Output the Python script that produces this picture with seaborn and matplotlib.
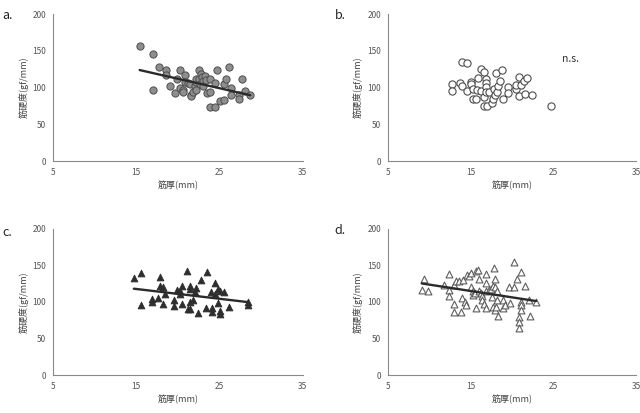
import matplotlib
matplotlib.use("Agg")
import matplotlib.pyplot as plt
import seaborn as sns
import numpy as np

# --- data (muscle thickness mm vs hardness gf/mm) ---
a_x = [15.4, 17.0, 17.0, 17.7, 18.6, 18.6, 19.0, 19.6, 19.9, 20.3, 20.3, 20.6, 20.6, 20.8,
       20.8, 21.2, 21.5, 21.6, 21.6, 21.8, 22.0, 22.2, 22.2, 22.2, 22.5, 22.5, 22.6, 22.8,
       22.9, 23.0, 23.0, 23.3, 23.4, 23.5, 23.8, 23.8, 23.8, 24.5, 24.5, 24.7, 25.1, 25.5,
       25.5, 25.8, 26.1, 26.4, 26.4, 27.3, 27.3, 27.7, 28.1, 28.7]
a_y = [157, 145, 96.6, 128, 124, 117.5, 102.5, 93, 112, 124, 100, 96.6, 93.4, 117,
       108, 106.6, 104.8, 90, 88, 94, 102.5, 108, 96.6, 112, 124, 112, 104.8, 118.5,
       114, 108.4, 102.5, 115.7, 110, 93, 112, 93.4, 73, 74, 105.7, 124, 82, 83.4,
       104.3, 111.6, 128.5, 99.3, 90.2, 89.7, 84.3, 111, 94.8, 89.3]

b_x = [12.7, 12.7, 13.7, 14.0, 14.0, 14.6, 14.6, 15.0, 15.0, 15.3, 15.3, 15.6, 15.8, 15.9,
       16.2, 16.3, 16.6, 16.6, 16.6, 16.9, 16.9, 16.9, 16.9, 17.0, 17.2, 17.6, 17.7, 17.8,
       18.0, 18.1, 18.2, 18.3, 18.5, 18.8, 18.9, 19.5, 19.5, 20.5, 20.5, 20.8, 20.9, 21.1,
       21.5, 21.6, 21.8, 22.4, 24.7]
b_y = [104.6, 95.2, 105.7, 102.5, 134.4, 133.5, 95.7, 108, 104.8, 97.5, 84.3, 84.3, 96.6, 112.5,
       95.7, 124.8, 121.6, 86.6, 75.2, 111.6, 105.7, 100.2, 93.4, 74.7, 94.3, 78.4, 84.3, 97.9,
       89.7, 120.3, 94.3, 102.5, 108.9, 123.9, 83.8, 101, 92, 97.9, 103.9, 114.8, 88.4, 103.9,
       108.9, 91.1, 113, 89.3, 74.7]

c_x = [14.7, 15.6, 15.6, 16.9, 16.9, 17.6, 17.9, 17.9, 18.2, 18.2, 18.5, 19.5, 19.5, 19.9,
       20.3, 20.3, 20.5, 20.5, 21.1, 21.2, 21.5, 21.5, 21.5, 21.5, 21.8, 22.0, 22.2, 22.4,
       22.8, 23.4, 23.5, 24.0, 24.1, 24.1, 24.4, 24.4, 24.8, 24.8, 25.0, 25.0, 25.1, 25.5,
       26.1, 28.4, 28.4]
c_y = [133.3, 139.3, 95.4, 103.7, 100, 105, 134.7, 121.9, 120.5, 96.8, 110.5, 102.7, 94.5, 116.4,
       115, 110.5, 122.4, 96.8, 141.6, 90.4, 121.9, 118.3, 100.5, 90.4, 102.7, 113.7, 118.7, 84.5,
       130.1, 92.2, 141.1, 113.7, 92.2, 86.8, 125.6, 111, 117.4, 98.6, 88.1, 84, 115, 113.7,
       93.6, 100.5, 95.9]

d_x = [9.1, 9.4, 9.8, 11.8, 12.4, 12.4, 12.4, 13.0, 13.0, 13.0, 13.2, 13.6, 13.8, 14.0,
       14.1, 14.3, 14.4, 14.6, 14.8, 15.0, 15.1, 15.3, 15.3, 15.5, 15.6, 15.7, 15.9, 16.0,
       16.0, 16.2, 16.4, 16.4, 16.6, 16.8, 16.9, 16.9, 16.9, 17.2, 17.5, 17.6, 17.7, 17.7,
       17.8, 18.0, 18.0, 18.0, 18.1, 18.2, 18.2, 18.3, 18.9, 18.9, 19.2, 19.6, 19.8, 20.2,
       20.3, 20.6, 20.9, 20.9, 20.9, 21.1, 21.1, 21.1, 21.1, 21.6, 22.1, 22.2, 22.9]
d_y = [116.9, 131.5, 115, 123.7, 138.3, 116.9, 108.7, 97.7, 85.8, 123.7, 128.3, 129.2, 85.8, 104.9,
       130.6, 100.4, 95.4, 137.4, 135.2, 139.7, 120.1, 114.6, 109.1, 112.3, 92.2, 142, 143.4, 131.5,
       115, 112.3, 108.7, 103.2, 97.3, 115.5, 138.8, 126.5, 91.8, 116.9, 117.8, 106.8, 122.4, 93.2,
       146.1, 131.5, 120.5, 88.6, 93.2, 114.6, 102.3, 80.4, 103.2, 91.3, 95.9, 120.5, 98.6, 154.3,
       120.5, 131.9, 79.5, 73.1, 64.8, 141.1, 100, 95.9, 89.5, 122, 102.7, 80.4, 99.5]

panel_labels = ["a.", "b.", "c.", "d."]
x_ticks = [5, 15, 25, 35]
y_ticks = [0, 50, 100, 150, 200]
x_label = "筋厚(mm)"
y_label = "筋硬度(gf/mm)"

sns.set_style("white")
plt.rcParams['font.family'] = ['Noto Sans CJK JP', 'DejaVu Sans']

fig = plt.figure(figsize=(6.4, 4.13), dpi=100)

# axes rectangles (left, bottom, width, height) in figure fraction
rects = [
    (0.083, 0.610, 0.390, 0.356),
    (0.606, 0.610, 0.388, 0.356),
    (0.083, 0.092, 0.390, 0.354),
    (0.606, 0.092, 0.388, 0.354),
]

styles = [
    dict(marker="o", s=27, color="#8e8e8e", edgecolor="#4e4e4e", linewidth=0.7),
    dict(marker="o", s=27, facecolor="white", edgecolor="#4e4e4e", linewidth=0.8),
    dict(marker="^", s=24, color="#2e2e2e", edgecolor="#2e2e2e", linewidth=0.6),
    dict(marker="^", s=24, facecolor="white", edgecolor="#5e5e5e", linewidth=0.8),
]

datasets = [(a_x, a_y), (b_x, b_y), (c_x, c_y), (d_x, d_y)]
fit_line = [True, False, True, True]

for i, ((xs, ys), rect) in enumerate(zip(datasets, rects)):
    ax = fig.add_axes(rect)
    sns.scatterplot(x=xs, y=ys, ax=ax, zorder=2, **styles[i])
    if fit_line[i]:
        sns.regplot(x=np.array(xs), y=np.array(ys), ax=ax, scatter=False, ci=None,
                    truncate=True, line_kws=dict(color="#2b2b2b", linewidth=1.7, zorder=3))
    ax.set_xlim(5, 35)
    ax.set_ylim(0, 200)
    ax.set_xticks(x_ticks)
    ax.set_yticks(y_ticks)
    for side in ["top", "right"]:
        ax.spines[side].set_visible(False)
    for side in ["left", "bottom"]:
        ax.spines[side].set_color("#8a8a8a")
        ax.spines[side].set_linewidth(0.8)
    ax.tick_params(axis="both", direction="out", length=3, width=0.7, color="#8a8a8a",
                   labelsize=6, labelcolor="#555555", pad=2)
    ax.set_xlabel(x_label, fontsize=6.5, color="#444444", labelpad=3)
    ax.set_ylabel(y_label, fontsize=6.5, color="#444444", labelpad=3)
    ax.grid(False)

# panel letters
fig.text(0.003, 0.962, panel_labels[0], fontsize=9, color="#222222", va="center")
fig.text(0.523, 0.962, panel_labels[1], fontsize=9, color="#222222", va="center")
fig.text(0.003, 0.437, panel_labels[2], fontsize=9, color="#222222", va="center")
fig.text(0.523, 0.442, panel_labels[3], fontsize=9, color="#222222", va="center")

fig.axes[1].text(26.1, 138.5, "n.s.", fontsize=7.5, color="#333333", va="center")

fig.savefig("out.png", dpi=100)
